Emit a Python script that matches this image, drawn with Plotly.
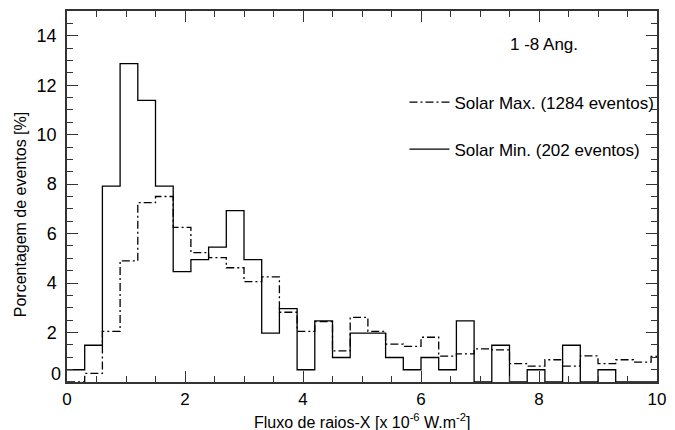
import plotly.graph_objects as go

bin_width = 0.3
# Percentage of events per 0.3 bin (bins start at 0)
solar_min = [0.495, 1.485, 7.92, 12.87, 11.39, 7.92, 4.46, 4.95, 5.45, 6.93,
             4.95, 1.98, 2.97, 0.495, 2.475, 0.99, 1.98, 1.98, 0.99, 0.495,
             0.99, 0.495, 2.475, 0.0, 1.485, 0.0, 0.495, 0.0, 1.485, 0.0,
             0.495, 0.0, 0.0, 0.0]
solar_max = [0.0, 0.35, 2.05, 4.9, 7.25, 7.5, 6.25, 5.23, 5.03, 4.62,
             4.06, 4.25, 2.82, 2.05, 2.44, 1.26, 2.61, 2.05, 1.53, 1.44,
             1.81, 1.05, 1.14, 1.34, 1.3, 0.74, 0.64, 0.9, 0.64, 1.06,
             0.74, 0.9, 0.8, 1.03]
y_ticks = [0, 2, 4, 6, 8, 10, 12, 14]
x_ticks = [0, 2, 4, 6, 8, 10]

FONT = "Liberation Sans, Arial, sans-serif"


def steps(vals):
    edges = [round(i * bin_width, 3) for i in range(len(vals) + 1)]
    return edges, list(vals) + [vals[-1]]


fig = go.Figure()
xm, ym = steps(solar_max)
fig.add_trace(go.Scatter(x=xm, y=ym, mode="lines", line_shape="hv",
                         line=dict(color="black", width=1.3, dash="8px,3px,2px,3px"),
                         name="Solar Max. (1284 eventos)", legendgroup="a"))
xn, yn = steps(solar_min)
fig.add_trace(go.Scatter(x=xn, y=yn, mode="lines", line_shape="hv",
                         line=dict(color="black", width=1.3),
                         name="Solar Min. (202 eventos)", legendgroup="b"))

axis_common = dict(showgrid=False, zeroline=False, showline=True, linecolor="#333",
                   linewidth=1.5, mirror="allticks", ticks="inside", tickcolor="#333",
                   ticklen=11, tickwidth=1)

fig.update_xaxes(range=[0, 10], tickvals=x_ticks, ticklabelstandoff=1,
                 tickfont=dict(family=FONT, size=17, color="black"),
                 minor=dict(dtick=0.5, ticks="inside", ticklen=6, tickcolor="#333"),
                 **axis_common)
fig.update_yaxes(range=[0, 15], tickvals=y_ticks,
                 ticktext=["" if v == 0 else str(v) for v in y_ticks],
                 ticklabelstandoff=5,
                 tickfont=dict(family=FONT, size=18, color="black"),
                 minor=dict(dtick=0.5, ticks="inside", ticklen=6, tickcolor="#333"),
                 **axis_common)

fig.add_annotation(x=0, y=0, xref="paper", yref="y", text="0", showarrow=False,
                   xanchor="right", yanchor="middle", xshift=-4, yshift=8,
                   font=dict(family=FONT, size=18, color="black"))
fig.add_annotation(x=0.5, y=-0.104, xref="paper", yref="paper",
                   text="Fluxo de raios-X [x 10<sup>-6</sup> W.m<sup>-2</sup>]",
                   showarrow=False, xanchor="center", yanchor="middle",
                   font=dict(family=FONT, size=16, color="black"))
fig.add_annotation(x=-0.0793, y=0.45, xref="paper", yref="paper",
                   text="Porcentagem de eventos [%]", textangle=-90,
                   showarrow=False, xanchor="center", yanchor="middle",
                   font=dict(family=FONT, size=16, color="black"))
fig.add_annotation(x=0.809, y=0.911, xref="paper", yref="paper",
                   text="1 -8 Ang.", showarrow=False, xanchor="center", yanchor="middle",
                   font=dict(family=FONT, size=17, color="black"))

fig.update_layout(
    width=675, height=430,
    margin=dict(l=67, r=15, t=9, b=48),
    plot_bgcolor="white", paper_bgcolor="white",
    showlegend=True,
    legend=dict(x=0.572, y=0.69, xanchor="left", yanchor="middle",
                bgcolor="rgba(0,0,0,0)", font=dict(family=FONT, size=17, color="black"),
                traceorder="grouped", tracegroupgap=22, itemwidth=40),
)

fig.write_html("out.html")
